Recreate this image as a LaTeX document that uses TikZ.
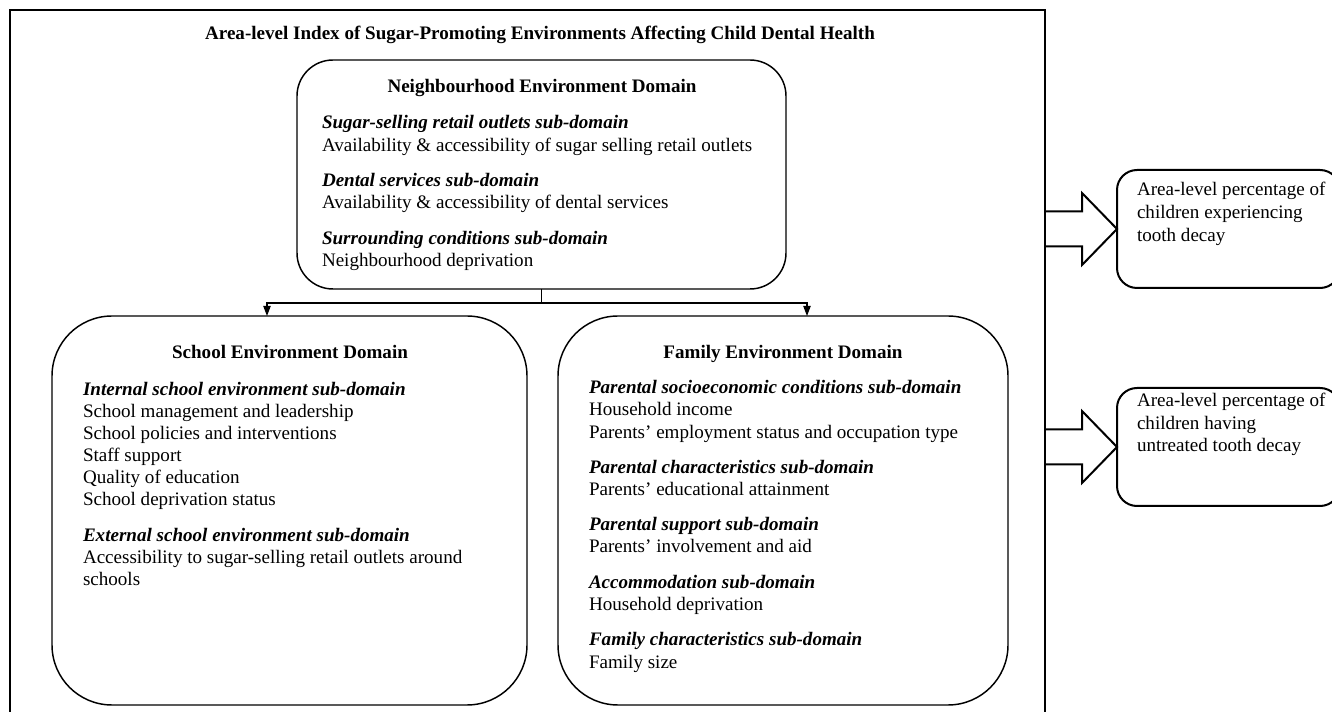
\documentclass[tikz,border=0pt]{standalone}
\usepackage{fontspec}
\setmainfont{Liberation Serif}
\usetikzlibrary{arrows.meta,calc}
\begin{document}
\begin{tikzpicture}[x=0.75pt,y=-0.75pt,
  txt/.style={font=\fontsize{14.3pt}{16.7pt}\selectfont, inner sep=0pt, outer sep=0pt, anchor=base west},
  hdr/.style={txt, font=\fontsize{14.3pt}{16.7pt}\selectfont\bfseries\itshape},
  ttl/.style={font=\fontsize{14.3pt}{16.7pt}\selectfont\bfseries, inner sep=0pt, outer sep=0pt, anchor=base},
  dombox/.style={draw, line width=1.1pt, rounded corners=#1, inner sep=0pt, outer sep=0pt},
  outbox/.style={draw, line width=1.5pt, rounded corners=15pt, inner sep=0pt, outer sep=0pt, minimum width=167.25pt, minimum height=88.5pt},
  conn/.style={line width=0.8pt},
  arr/.style={conn, -{Triangle[width=5.5pt,length=7.5pt]}},
  blk/.style={line width=1.5pt, line join=miter}
]
\useasboundingbox (0,0) rectangle (1332,712);
\clip (0,0) rectangle (1332,712);

% outer frame
\node[draw, line width=2pt, inner sep=0pt, outer sep=0pt, minimum width=776.25pt, minimum height=532.5pt] (outer) at (527.5,365) {};
\node[ttl] (title) at (540,40) {Area-level Index of Sugar-Promoting Environments Affecting Child Dental Health};

% domain boxes
\node[dombox=27pt, minimum width=366.75pt, minimum height=171.75pt] (nb) at (541.5,174.5) {};
\node[dombox=45pt, minimum width=356.25pt, minimum height=291.75pt] (sc) at (289.5,510.5) {};
\node[dombox=45pt, minimum width=337.5pt, minimum height=291.75pt] (fa) at (783,510.5) {};

% neighbourhood text
\node[ttl] (nbt) at (542,93) {Neighbourhood Environment Domain};
\node[hdr] (nb1) at (322,129) {Sugar-selling retail outlets sub-domain};
\node[txt] (nb2) at (322,152) {Availability \& accessibility of sugar selling retail outlets};
\node[hdr] (nb3) at (322,187) {Dental services sub-domain};
\node[txt] (nb4) at (322,209) {Availability \& accessibility of dental services};
\node[hdr] (nb5) at (322,245) {Surrounding conditions sub-domain};
\node[txt] (nb6) at (322,267) {Neighbourhood deprivation};

% school text
\node[ttl] (sct) at (290,359) {School Environment Domain};
\node[hdr] (sc1) at (83,396) {Internal school environment sub-domain};
\node[txt] (sc2) at (83,418) {School management and leadership};
\node[txt] (sc3) at (83,440) {School policies and interventions};
\node[txt] (sc4) at (83,462) {Staff support};
\node[txt] (sc5) at (83,484) {Quality of education};
\node[txt] (sc6) at (83,506) {School deprivation status};
\node[hdr] (sc7) at (83,542) {External school environment sub-domain};
\node[txt] (sc8) at (83,564) {Accessibility to sugar-selling retail outlets around};
\node[txt] (sc9) at (83,586) {schools};

% family text
\node[ttl] (fat) at (783,359) {Family Environment Domain};
\node[hdr] (fa1) at (589,394) {Parental socioeconomic conditions sub-domain};
\node[txt] (fa2) at (589,416) {Household income};
\node[txt] (fa3) at (589,439) {Parents' employment status and occupation type};
\node[hdr] (fa4) at (589,474) {Parental characteristics sub-domain};
\node[txt] (fa5) at (589,496) {Parents' educational attainment};
\node[hdr] (fa6) at (589,531) {Parental support sub-domain};
\node[txt] (fa7) at (589,553) {Parents' involvement and aid};
\node[hdr] (fa8) at (589,589) {Accommodation sub-domain};
\node[txt] (fa9) at (589,611) {Household deprivation};
\node[hdr] (fa10) at (589,646) {Family characteristics sub-domain};
\node[txt] (fa11) at (589,668) {Family size};

% connectors
\coordinate (j) at (541.5,303);
\coordinate (aL) at (267,316);
\coordinate (aR) at (807,316);
\draw[conn] (nb.south) -- (j);
\draw[arr] (j) -| (aL);
\draw[arr] (j) -| (aR);

% outcome boxes
\node[outbox] (o1) at (1228.5,229) {};
\node[outbox] (o2) at (1228.5,447) {};
\node[txt] (o1a) at (1137,196) {Area-level percentage of};
\node[txt] (o1b) at (1137,219) {children experiencing};
\node[txt] (o1c) at (1137,242) {tooth decay};
\node[txt] (o2a) at (1137,407) {Area-level percentage of};
\node[txt] (o2b) at (1137,430) {children having};
\node[txt] (o2c) at (1137,452) {untreated tooth decay};

% block arrows
\draw[blk] ($(o1.west)+(-72,-17.5)$) -- ($(o1.west)+(-35,-17.5)$) -- ($(o1.west)+(-35,-36)$) -- (o1.west) -- ($(o1.west)+(-35,36)$) -- ($(o1.west)+(-35,17.5)$) -- ($(o1.west)+(-72,17.5)$);
\draw[blk] ($(o2.west)+(-72,-17.5)$) -- ($(o2.west)+(-35,-17.5)$) -- ($(o2.west)+(-35,-36)$) -- (o2.west) -- ($(o2.west)+(-35,36)$) -- ($(o2.west)+(-35,17.5)$) -- ($(o2.west)+(-72,17.5)$);
\end{tikzpicture}
\end{document}
